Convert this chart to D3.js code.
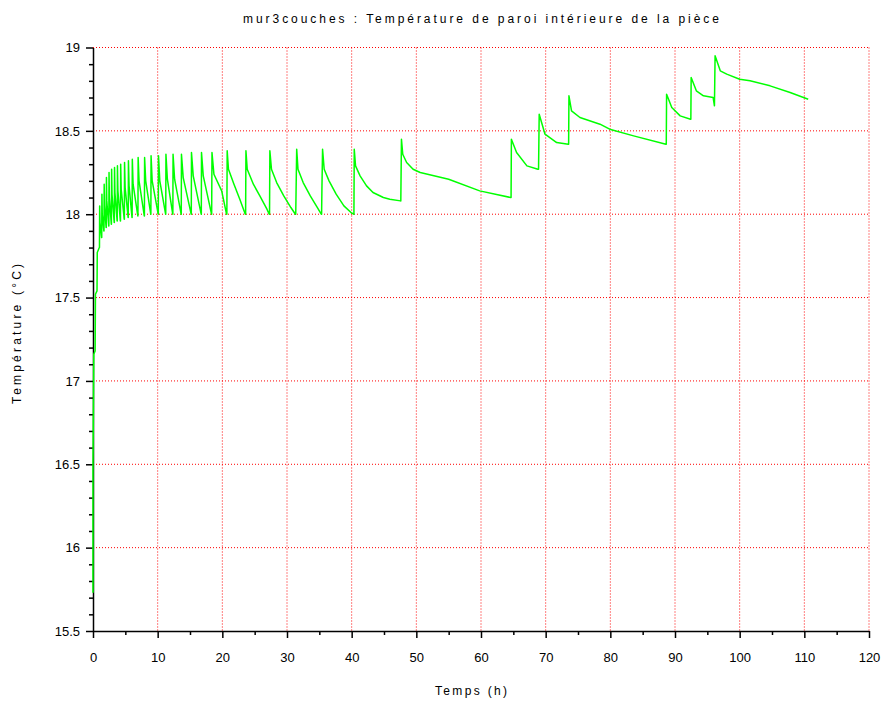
<!DOCTYPE html>
<html>
<head>
<meta charset="utf-8">
<script src="https://cdn.jsdelivr.net/npm/d3@7"></script>
<style>
  body { margin: 0; background: #fff; }
  text { font-family: "Liberation Sans", Arial, sans-serif; fill: #000; }
</style>
</head>
<body>
<svg id="chart" width="885" height="704"></svg>
<script>
// axis ticks
const xTicks = [0, 10, 20, 30, 40, 50, 60, 70, 80, 90, 100, 110, 120];
const yTicks = [15.5, 16, 16.5, 17, 17.5, 18, 18.5, 19];

// heating up from the initial state
const startupTime = [0, 0.0, 0.12, 0.33, 0.38, 0.62, 0.66, 0.98];
const startupTemp = [15.73, 16.5, 17.16, 17.18, 17.52, 17.54, 17.77, 17.80];

// short thermostat cycles (first 20 h)
const fastTime = [
  1.0, 1.03, 1.08, 1.33,
  1.35, 1.38, 1.43, 1.68,
  1.7, 1.73, 1.78, 2.03,
  2.05, 2.08, 2.13, 2.43,
  2.45, 2.48, 2.53, 2.83,
  2.85, 2.88, 2.94, 3.28,
  3.3, 3.33, 3.39, 3.73,
  3.75, 3.78, 3.85, 4.23,
  4.25, 4.28, 4.36, 4.83,
  4.85, 4.88, 4.97, 5.43,
  5.45, 5.48, 5.58, 6.03,
  6.05, 6.08, 6.2, 6.93,
  6.95, 6.98, 7.12, 7.93,
  7.95, 7.98, 8.15, 8.93,
  8.95, 8.98, 9.15, 10.08,
  10.1, 10.13, 10.33, 11.23,
  11.25, 11.28, 11.5, 12.33,
  12.35, 12.38, 12.62, 13.63,
  13.65, 13.68, 13.95, 15.18,
  15.2, 15.23, 15.5, 16.73,
  16.75, 16.78, 17.05, 18.33,
  18.35, 18.4, 18.7, 19.9, 20.65
];
const fastTemp = [
  17.80, 18.05, 17.95, 17.86,
  17.86, 18.12, 18.00, 17.90,
  17.90, 18.18, 18.05, 17.92,
  17.92, 18.22, 18.08, 17.93,
  17.93, 18.25, 18.10, 17.94,
  17.94, 18.27, 18.12, 17.95,
  17.95, 18.28, 18.13, 17.96,
  17.96, 18.29, 18.14, 17.96,
  17.96, 18.30, 18.15, 17.97,
  17.97, 18.31, 18.16, 17.98,
  17.98, 18.32, 18.17, 17.98,
  17.98, 18.33, 18.18, 17.99,
  17.99, 18.34, 18.20, 17.99,
  17.99, 18.34, 18.20, 18.00,
  18.00, 18.35, 18.20, 18.00,
  18.00, 18.35, 18.20, 18.00,
  18.00, 18.36, 18.21, 18.00,
  18.00, 18.36, 18.21, 18.00,
  18.00, 18.36, 18.22, 18.00,
  18.00, 18.37, 18.23, 18.00,
  18.00, 18.37, 18.23, 18.00,
  18.00, 18.37, 18.24, 18.14, 18.00
];

// longer cycles afterwards
const slowTime = [
  20.7, 20.75, 20.95, 21.8, 22.7, 23.55,
  23.6, 23.65, 23.85, 24.8, 25.8, 26.9, 27.25,
  27.3, 27.35, 27.6, 28.4, 29.5, 30.6, 31.3,
  31.35, 31.4, 31.5, 31.7, 32.5, 33.6, 34.7, 35.3,
  35.35, 35.4, 35.5, 35.75, 36.5, 37.6, 38.8, 39.9, 40.3,
  40.35, 40.4, 40.6, 41.3, 42.3, 43.3, 44.9, 45.9, 47.55,
  47.6, 47.7, 47.9, 48.5, 49.5, 50.6, 55.0, 59.8, 64.6,
  64.65, 64.7, 65.5, 67.1, 68.8,
  68.9, 69.0, 69.9, 71.7, 73.5,
  73.55, 73.6, 74.0, 75.3, 78.4, 79.9, 83.6, 88.6,
  88.65, 88.7, 89.5, 90.8, 92.4,
  92.45, 92.5, 93.3, 94.4, 95.9, 96.1,
  96.2, 97.0, 98.0, 100.0, 101.6, 104.7, 107.8, 110.6
];
const slowTemp = [
  18.00, 18.38, 18.27, 18.18, 18.09, 18.00,
  18.00, 18.38, 18.27, 18.18, 18.11, 18.03, 18.00,
  18.00, 18.38, 18.27, 18.19, 18.11, 18.04, 18.00,
  18.00, 18.13, 18.39, 18.27, 18.19, 18.11, 18.04, 18.00,
  18.00, 18.15, 18.39, 18.27, 18.20, 18.12, 18.05, 18.01, 18.00,
  18.00, 18.39, 18.29, 18.23, 18.17, 18.13, 18.10, 18.09, 18.08,
  18.08, 18.45, 18.36, 18.31, 18.27, 18.25, 18.21, 18.14, 18.10,
  18.10, 18.45, 18.37, 18.29, 18.27,
  18.27, 18.60, 18.48, 18.43, 18.42,
  18.42, 18.71, 18.62, 18.58, 18.54, 18.51, 18.47, 18.42,
  18.42, 18.72, 18.64, 18.59, 18.57,
  18.57, 18.82, 18.74, 18.71, 18.70, 18.65,
  18.95, 18.86, 18.84, 18.81, 18.80, 18.77, 18.73, 18.69
];

const timeH = startupTime.concat(fastTime, slowTime);
const tempC = startupTemp.concat(fastTemp, slowTemp);
const series = timeH.map((t, i) => [t, tempC[i]]);

const plotLeft = 93, plotRight = 869, plotTop = 47.5, plotBottom = 631;

const svg = d3.select("#chart");

const x = d3.scaleLinear().domain([0, 120]).range([plotLeft, plotRight]);
const y = d3.scaleLinear().domain([15.5, 19]).range([plotBottom, plotTop]);

// red dotted grid
const grid = svg.append("g")
    .attr("stroke", "#ff0000")
    .attr("stroke-width", 1)
    .attr("stroke-dasharray", "1,2");

grid.selectAll(".gx")
    .data(xTicks.filter(d => d > 0))
    .enter()
    .append("line")
    .attr("x1", d => x(d))
    .attr("x2", d => x(d))
    .attr("y1", plotTop)
    .attr("y2", plotBottom);

grid.selectAll(".gy")
    .data(yTicks.filter(d => d > 15.5))
    .enter()
    .append("line")
    .attr("x1", plotLeft)
    .attr("x2", plotRight)
    .attr("y1", d => y(d))
    .attr("y2", d => y(d));

// minor ticks
svg.append("g")
    .attr("transform", "translate(0," + plotBottom + ")")
    .call(d3.axisBottom(x).tickValues(d3.range(5, 120, 10)).tickSize(4).tickFormat("").tickSizeOuter(0))
    .call(g => g.select(".domain").remove());

svg.append("g")
    .attr("transform", "translate(" + plotLeft + ",0)")
    .call(d3.axisLeft(y).tickValues(d3.range(15.6, 19, 0.1).filter(v => Math.abs(v * 2 - Math.round(v * 2)) > 0.01)).tickSize(4).tickFormat("").tickSizeOuter(0))
    .call(g => g.select(".domain").remove());

// major axes
svg.append("g")
    .attr("transform", "translate(0," + plotBottom + ")")
    .call(d3.axisBottom(x).tickValues(xTicks).tickSize(7).tickPadding(15).tickSizeOuter(0));

svg.append("g")
    .attr("transform", "translate(" + plotLeft + ",0)")
    .call(d3.axisLeft(y).tickValues(yTicks).tickFormat(d3.format("")).tickSize(7).tickPadding(6).tickSizeOuter(0));

svg.selectAll(".tick line").attr("stroke", "#000").attr("stroke-width", 1.5);
svg.selectAll(".domain").attr("stroke", "#000").attr("stroke-width", 1.5);
svg.selectAll(".tick text")
    .attr("font-family", "'Liberation Sans', Arial, sans-serif")
    .attr("font-size", 13);

// curve, drawn over the axes like the original
svg.append("path")
    .datum(series)
    .attr("fill", "none")
    .attr("stroke", "#00ff00")
    .attr("stroke-width", 1.5)
    .attr("stroke-linejoin", "round")
    .attr("d", d3.line().x(d => x(d[0])).y(d => y(d[1])));

// titles
svg.append("text")
    .attr("x", 481)
    .attr("y", 23)
    .attr("text-anchor", "middle")
    .attr("font-size", 12)
    .attr("textLength", 476)
    .attr("lengthAdjust", "spacing")
    .text("mur3couches : Température de paroi intérieure de la pièce");

svg.append("text")
    .attr("x", 471)
    .attr("y", 695)
    .attr("text-anchor", "middle")
    .attr("font-size", 12)
    .attr("textLength", 72)
    .attr("lengthAdjust", "spacing")
    .text("Temps (h)");

svg.append("text")
    .attr("transform", "translate(21,334) rotate(-90)")
    .attr("text-anchor", "middle")
    .attr("font-size", 12)
    .attr("textLength", 140)
    .attr("lengthAdjust", "spacing")
    .text("Température (°C)");
</script>
</body>
</html>
